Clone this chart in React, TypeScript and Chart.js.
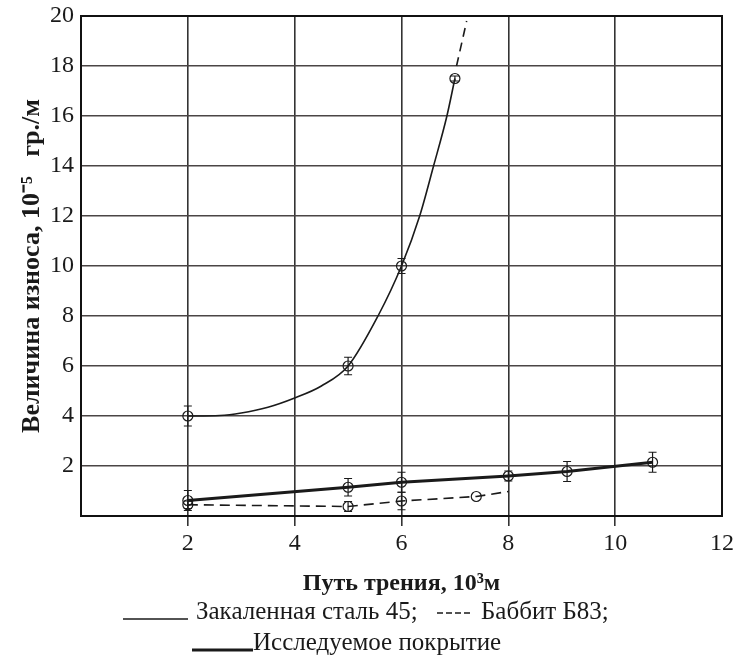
import React, { useEffect, useRef } from "react";
import { Chart, registerables } from "chart.js";
Chart.register(...registerables);

// ---- data ----
const steelX = [2, 5, 6, 7];
const steelY = [4, 6, 10, 17.5];
const steelErr = [0.4, 0.35, 0.3, 0.1];
const steelCurveX = [2, 2.6, 3, 3.5, 4, 4.5, 5, 5.56, 6, 6.34, 6.6, 6.85, 7.0];
const steelCurveY = [4, 4.02, 4.12, 4.35, 4.72, 5.2, 6, 8, 10, 12, 14, 16, 17.5];
const steelExtX = [7.03, 7.22];
const steelExtY = [18, 19.8];

const babbitX = [2, 5, 6, 7.4, 8];
const babbitY = [0.45, 0.38, 0.6, 0.78, 0.98];
const babbitErr = [0.15, 0.2, 0.35, 0, 0];
const babbitMarker = [1, 1, 1, 1, 0];

const coatX = [2, 5, 6, 8, 9.1, 10.7];
const coatY = [0.62, 1.15, 1.35, 1.6, 1.78, 2.15];
const coatErr = [0.4, 0.35, 0.4, 0.2, 0.4, 0.4];

const xMin = 0, xMax = 12, xStep = 2;
const yMin = 0, yMax = 20, yStep = 2;

const xTitle = "Путь трения, 10³м";
const yTitle = "Величина износа, 10⁻⁵   гр./м";
const legendSteel = "Закаленная сталь 45;";
const legendBabbit = "Баббит Б83;";
const legendCoat = "Исследуемое покрытие";

const FONT = "'Liberation Serif', 'Times New Roman', serif";
const INK = "#1a1a1a";

const pts = (xs: number[], ys: number[]) => xs.map((x, i) => ({ x, y: ys[i] }));

const errorBarPlugin = {
  id: "errorBars",
  afterDatasetsDraw(chart: any) {
    const { ctx, scales } = chart;
    const ys = scales.y;
    chart.data.datasets.forEach((ds: any, di: number) => {
      if (!ds.errors) return;
      const meta = chart.getDatasetMeta(di);
      ctx.save();
      ctx.strokeStyle = INK;
      ctx.lineWidth = 1.2;
      ctx.setLineDash([]);
      ds.errors.forEach((e: number, i: number) => {
        if (!e) return;
        const p = meta.data[i];
        const v = ds.data[i].y;
        const top = ys.getPixelForValue(v + e);
        const bot = ys.getPixelForValue(v - e);
        ctx.beginPath();
        ctx.moveTo(p.x, top); ctx.lineTo(p.x, bot);
        ctx.moveTo(p.x - 4, top); ctx.lineTo(p.x + 4, top);
        ctx.moveTo(p.x - 4, bot); ctx.lineTo(p.x + 4, bot);
        ctx.stroke();
      });
      ctx.restore();
    });
  },
};

const framePlugin = {
  id: "frame",
  afterDraw(chart: any) {
    const { ctx, chartArea: a } = chart;
    ctx.save();
    ctx.strokeStyle = "#111";
    ctx.lineWidth = 2;
    ctx.strokeRect(a.left, a.top, a.right - a.left, a.bottom - a.top);

    // legend
    ctx.fillStyle = INK;
    ctx.strokeStyle = INK;
    ctx.font = `25px ${FONT}`;
    ctx.textBaseline = "middle";
    ctx.textAlign = "left";
    // line 1
    ctx.lineWidth = 1.5;
    ctx.beginPath(); ctx.moveTo(123, 619); ctx.lineTo(188, 619); ctx.stroke();
    ctx.fillText(legendSteel, 196, 612);
    const dx = 437;
    ctx.beginPath();
    for (let k = 0; k < 4; k++) { ctx.moveTo(dx + k * 9, 613); ctx.lineTo(dx + k * 9 + 6, 613); }
    ctx.stroke();
    ctx.fillText(legendBabbit, 481, 612);
    // line 2
    ctx.lineWidth = 3;
    ctx.beginPath(); ctx.moveTo(192, 650); ctx.lineTo(253, 650); ctx.stroke();
    ctx.fillText(legendCoat, 253, 643);
    ctx.restore();
  },
};

export default function App() {
  const ref = useRef<HTMLCanvasElement>(null);
  useEffect(() => {
    if (!ref.current) return;
    const chart = new Chart(ref.current, {
      type: "scatter",
      data: {
        datasets: [
          {
            label: "steel-curve",
            data: pts(steelCurveX, steelCurveY),
            showLine: true,
            borderColor: INK,
            borderWidth: 1.6,
            pointRadius: 0,
            cubicInterpolationMode: "monotone",
          } as any,
          {
            label: "steel-ext",
            data: pts(steelExtX, steelExtY),
            showLine: true,
            borderColor: INK,
            borderWidth: 1.6,
            borderDash: [9, 6],
            pointRadius: 0,
          },
          {
            label: "steel",
            data: pts(steelX, steelY),
            showLine: false,
            pointRadius: 5,
            pointBorderColor: INK,
            pointBackgroundColor: "rgba(0,0,0,0)",
            pointBorderWidth: 1.2,
            errors: steelErr,
          } as any,
          {
            label: "babbit",
            data: pts(babbitX, babbitY),
            showLine: true,
            borderColor: INK,
            borderWidth: 1.6,
            borderDash: [10, 6],
            pointRadius: babbitMarker.map((m) => (m ? 5 : 0)),
            pointBorderColor: INK,
            pointBackgroundColor: "rgba(0,0,0,0)",
            pointBorderWidth: 1.2,
            errors: babbitErr,
          } as any,
          {
            label: "coating",
            data: pts(coatX, coatY),
            showLine: true,
            borderColor: INK,
            borderWidth: 3,
            pointRadius: 5,
            pointBorderColor: INK,
            pointBackgroundColor: "rgba(0,0,0,0)",
            pointBorderWidth: 1.2,
            errors: coatErr,
          } as any,
        ],
      },
      options: {
        animation: false,
        responsive: false,
        layout: { padding: { left: 0, top: 16, right: 13, bottom: 62 } },
        plugins: { legend: { display: false }, tooltip: { enabled: false } },
        scales: {
          x: {
            type: "linear",
            min: xMin,
            max: xMax,
            afterFit: (s: any) => { s.height = 82; s.paddingRight = 0; s.paddingLeft = 0; },
            ticks: {
              stepSize: xStep,
              color: INK,
              font: { family: FONT, size: 24 },
              padding: 3,
              maxRotation: 0,
              callback: (v: any) => (v === 0 ? "" : String(v)),
            },
            grid: {
              color: "#333",
              lineWidth: 1.6,
              tickLength: 10,
              tickColor: (c: any) => (c.tick && (c.tick.value === 0 || c.tick.value === 12) ? "rgba(0,0,0,0)" : "#333"),
            },
            border: { display: false },
            title: {
              display: true,
              text: xTitle,
              color: INK,
              font: { family: FONT, size: 24, weight: "bold" },
              padding: { top: 0, bottom: 0 },
            },
          },
          y: {
            type: "linear",
            min: yMin,
            max: yMax,
            afterFit: (s: any) => { s.width = 81; s.paddingTop = 0; s.paddingBottom = 0; },
            ticks: {
              stepSize: yStep,
              color: INK,
              font: { family: FONT, size: 24 },
              padding: 7,
              callback: (v: any) => (v === 0 ? "" : String(v)),
            },
            grid: { color: "#4a4545", lineWidth: 1.6, drawTicks: false },
            border: { display: false },
            title: {
              display: true,
              text: yTitle,
              color: INK,
              font: { family: FONT, size: 26, weight: "bold" },
              padding: { top: 17, bottom: 0 },
            },
          },
        },
      },
      plugins: [errorBarPlugin, framePlugin],
    } as any);
    return () => chart.destroy();
  }, []);
  return (
    <div style={{ position: "absolute", left: 0, top: 0, width: 735, height: 660, background: "#fff" }}>
      <canvas ref={ref} width={735} height={660} style={{ display: "block", width: 735, height: 660 }} />
    </div>
  );
}
